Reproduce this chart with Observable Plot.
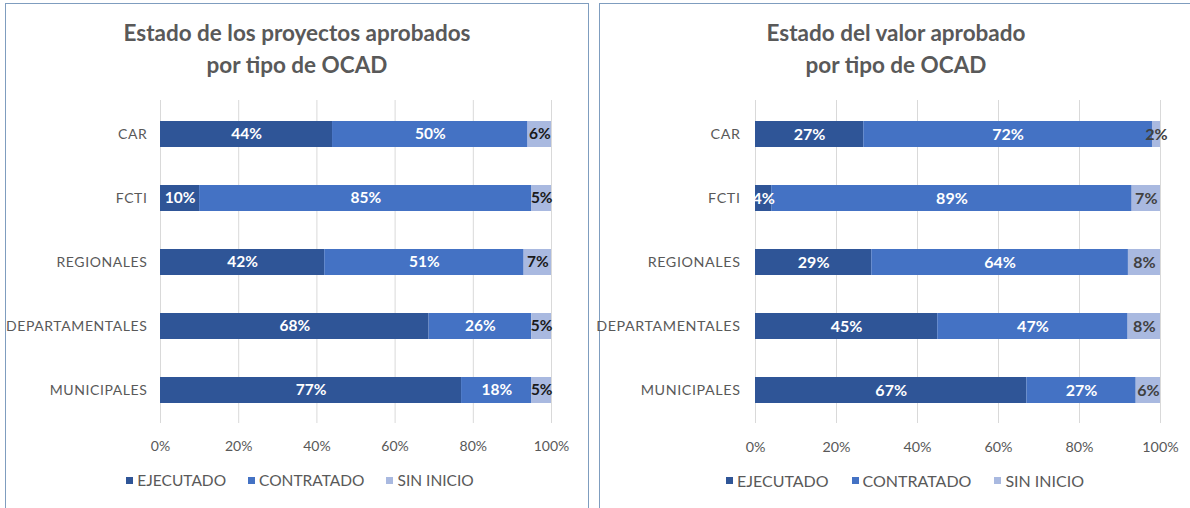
<!DOCTYPE html>
<html>
<head>
<meta charset="utf-8">
<script src="https://cdn.jsdelivr.net/npm/d3@7"></script>
<script src="https://cdn.jsdelivr.net/npm/@observablehq/plot@0.6"></script>
<style>
  html, body { margin: 0; padding: 0; background: #fff; width: 1190px; height: 508px; overflow: hidden; font-family: Lato, "Open Sans", sans-serif; }
  .panel { position: absolute; top: 3px; height: 520px; border: 1px solid #7f9dbf; box-sizing: border-box; background: #fff; }
  .title { position: absolute; text-align: center; color: #595959; font-size: 22.5px; font-weight: 700; line-height: 32px; }
  .legend { position: absolute; top: 471px; display: flex; justify-content: center; gap: 22px; color: #595959; font-size: 15.5px; }
  .legend span.item { display: inline-flex; align-items: center; }
  .legend span.sw { display: inline-block; width: 7px; height: 7px; margin-right: 4px; }
  .chart { position: absolute; top: 0; }
  .chart g[aria-label="y-axis tick label"] text { letter-spacing: 0.6px; }
</style>
</head>
<body>
<div class="panel" style="left:5px; width:584px;"></div>
<div class="panel" style="left:599px; width:620px;"></div>
<div class="title" style="left:5px; width:584px; top:17px;">Estado de los proyectos aprobados<br>por tipo de OCAD</div>
<div class="title" style="left:599px; width:594px; top:17px;">Estado del valor aprobado<br>por tipo de OCAD</div>
<div id="left" class="chart" style="left:0px;"></div>
<div id="right" class="chart" style="left:590px;"></div>
<div id="legL" class="legend" style="left:8px; width:584px;"></div>
<div id="legR" class="legend" style="left:599px; width:612px; font-size:16px; gap:23px;"></div>
<script>
const categories = ["CAR", "FCTI", "REGIONALES", "DEPARTAMENTALES", "MUNICIPALES"];
const seriesNames = ["EJECUTADO", "CONTRATADO", "SIN INICIO"];
const seriesColors = ["#2f5597", "#4472c4", "#a9b9e0"];
const xTicks = [0, 0.2, 0.4, 0.6, 0.8, 1];

// Estado de los proyectos aprobados (%)
const proyEjecutado  = [44, 10, 42, 68, 77];
const proyContratado = [50, 85, 51, 26, 18];
const proySinInicio  = [6, 5, 7, 5, 5];

// Estado del valor aprobado (%)
const valorEjecutado  = [27, 4, 29, 45, 67];
const valorContratado = [72, 89, 64, 47, 27];
const valorSinInicio  = [2, 7, 8, 8, 6];

function tidy(arrays) {
  const rows = [];
  arrays.forEach((arr, s) => arr.forEach((v, i) => rows.push({cat: categories[i], series: seriesNames[s], value: v})));
  return rows;
}

function labels(data, opts) {
  const colorsText = {"EJECUTADO": "#ffffff", "CONTRATADO": "#ffffff", "SIN INICIO": opts.thirdColor};
  return seriesNames.map(name => Plot.textX(data, Plot.stackX({
    x: "value", y: "cat", z: "series", offset: "normalize",
    text: d => d.series === name ? d.value + "%" : "",
    fill: colorsText[name], fontSize: opts.labelSize, fontWeight: 700,
    clip: name === "EJECUTADO" ? "frame" : null
  })));
}

function chart(data, opts) {
  return Plot.plot({
    width: opts.width, height: 465,
    marginLeft: opts.marginLeft, marginRight: opts.marginRight, marginTop: 100, marginBottom: 42,
    style: {fontFamily: "Lato, 'Open Sans', sans-serif", background: "transparent", overflow: "visible"},
    x: {domain: [0, 1], ticks: xTicks, tickFormat: d3.format(".0%"), label: null},
    y: {domain: categories, padding: 0.6, paddingOuter: 0.3, label: null},
    color: {domain: seriesNames, range: seriesColors},
    marks: [
      Plot.gridX(xTicks, {stroke: "#d9d9d9", strokeOpacity: 1}),
      Plot.axisX({ticks: xTicks, tickFormat: d3.format(".0%"), tickSize: 0, tickPadding: 18, fontSize: opts.tickSize, fill: "#595959", label: null}),
      Plot.axisY({tickSize: 0, tickPadding: opts.yPad, fontSize: opts.tickSize, fill: "#595959", label: null}),
      Plot.barX(data, Plot.stackX({x: "value", y: "cat", fill: "series", offset: "normalize"})),
      ...labels(data, opts)
    ]
  });
}

function legend(el) {
  el.innerHTML = seriesNames.map((n, i) =>
    `<span class="item"><span class="sw" style="background:${seriesColors[i]}"></span>${n}</span>`).join("");
}

document.getElementById("left").append(chart(tidy([proyEjecutado, proyContratado, proySinInicio]),
  {width: 590, marginLeft: 160, marginRight: 39, yPad: 13, thirdColor: "#1a1a1a", labelSize: 15.5, tickSize: 14}));
document.getElementById("right").append(chart(tidy([valorEjecutado, valorContratado, valorSinInicio]),
  {width: 600, marginLeft: 165, marginRight: 30, yPad: 15, thirdColor: "#404040", labelSize: 16, tickSize: 14.3}));
legend(document.getElementById("legL"));
legend(document.getElementById("legR"));
</script>
</body>
</html>
